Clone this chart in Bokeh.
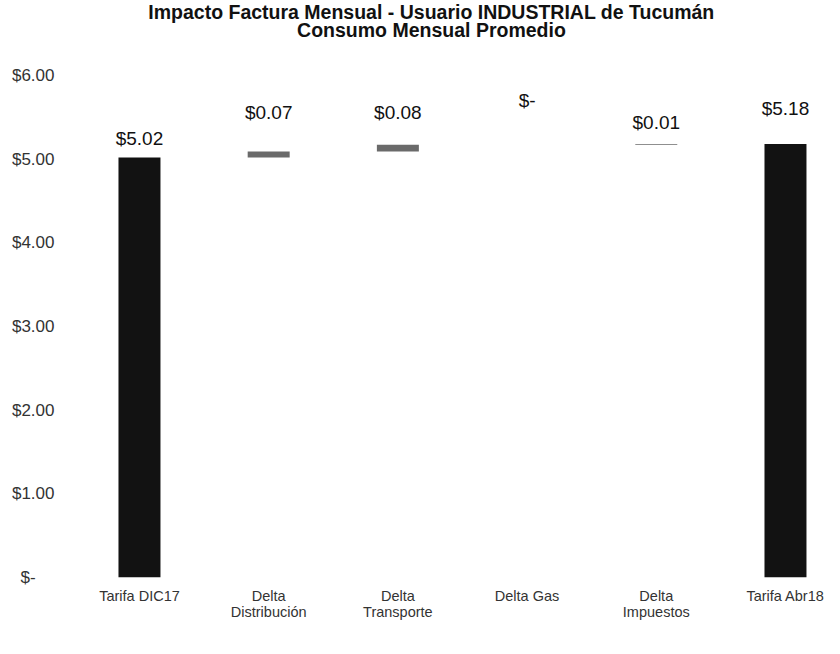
from bokeh.plotting import figure
from bokeh.models import ColumnDataSource, Range1d, FixedTicker
from bokeh.core.properties import value
from bokeh.embed import file_html
from bokeh.resources import INLINE

# ---- data ----
categories = ["Tarifa DIC17", "Delta\nDistribución", "Delta\nTransporte",
              "Delta Gas", "Delta\nImpuestos", "Tarifa Abr18"]
values = [5.02, 0.07, 0.08, 0.00, 0.01, 5.18]
is_total = [True, False, False, False, False, True]
value_labels = ["$5.02", "$0.07", "$0.08", "$-", "$0.01", "$5.18"]
y_tick_values = [0, 1, 2, 3, 4, 5, 6]
y_tick_labels = ["$-\u00a0\u00a0\u00a0\u00a0", "$1.00", "$2.00", "$3.00", "$4.00", "$5.00", "$6.00"]
title_lines = ["Impacto Factura Mensual - Usuario INDUSTRIAL de Tucumán",
               "Consumo Mensual Promedio"]

# layout: label lift above each bar top (data units)
label_lift = [0.225, 0.47, 0.39, 0.53, 0.26, 0.42]

# ---- waterfall geometry ----
xs = list(range(len(categories)))
bottoms, tops = [], []
running = 0.0
for v, tot in zip(values, is_total):
    if tot:
        bottoms.append(0.0)
        tops.append(v)
        running = v
    else:
        bottoms.append(running)
        running += v
        tops.append(running)

tot_src = ColumnDataSource(dict(
    x=[x for x, t in zip(xs, is_total) if t],
    b=[b for b, t in zip(bottoms, is_total) if t],
    t=[tp for tp, t in zip(tops, is_total) if t]))
del_src = ColumnDataSource(dict(
    x=[x for x, t in zip(xs, is_total) if not t],
    b=[b for b, t in zip(bottoms, is_total) if not t],
    t=[tp for tp, t in zip(tops, is_total) if not t]))
lab_src = ColumnDataSource(dict(
    x=xs, y=[tp + l for tp, l in zip(tops, label_lift)], text=value_labels))

p = figure(width=830, height=638, output_backend="svg", toolbar_location=None,
           x_range=Range1d(-0.619, 5.302), y_range=Range1d(0, 6.895),
           min_border_left=59, min_border_right=6, min_border_top=0,
           min_border_bottom=61)
p.outline_line_color = None
p.xgrid.visible = False
p.ygrid.visible = False
p.background_fill_color = "white"
p.border_fill_color = "white"

p.vbar(x="x", bottom="b", top="t", width=0.325, source=tot_src,
       fill_color="#121212", line_color=None)
p.vbar(x="x", bottom="b", top="t", width=0.325, source=del_src,
       fill_color="#6a6a6a", line_color=None)

p.text(x="x", y="y", text="text", source=lab_src, text_align="center",
       text_baseline="middle", text_font=value("Liberation Sans"),
       text_font_size="19px", text_color="#111111")

# title
p.text(x=[2.26, 2.26], y=[6.76, 6.545], text=title_lines, text_align="center",
       text_baseline="middle", text_font=value("Liberation Sans"),
       text_font_size="19.5px", text_font_style="bold", text_color="#111111")

# axes
p.yaxis.ticker = FixedTicker(ticks=y_tick_values)
p.yaxis.major_label_overrides = dict(zip(y_tick_values, y_tick_labels))
p.yaxis.axis_line_color = None
p.yaxis.major_tick_line_color = None
p.yaxis.minor_tick_line_color = None
p.yaxis.major_tick_out = 0
p.yaxis.major_label_standoff = 5
p.yaxis.major_label_text_font = "Liberation Sans"
p.yaxis.major_label_text_font_size = "17px"
p.yaxis.major_label_text_color = "#333333"

p.xaxis.ticker = FixedTicker(ticks=xs)
p.xaxis.major_label_overrides = dict(zip(xs, categories))
p.xaxis.axis_line_color = None
p.xaxis.major_tick_line_color = None
p.xaxis.minor_tick_line_color = None
p.xaxis.major_tick_out = 0
p.xaxis.major_label_standoff = 10
p.xaxis.major_label_text_font = "Liberation Sans"
p.xaxis.major_label_text_font_size = "14.5px"
p.xaxis.major_label_text_line_height = 1.05
p.xaxis.major_label_text_color = "#333333"

open("out.html", "w").write(file_html(p, INLINE))
